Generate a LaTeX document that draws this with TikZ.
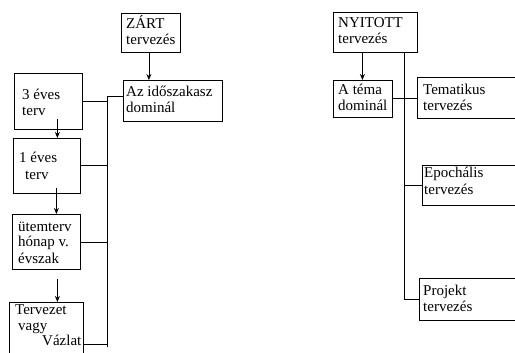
\documentclass[tikz,border=0pt]{standalone}
\usepackage{fontspec}
\setmainfont{Liberation Serif}
\usetikzlibrary{arrows.meta,calc}
\begin{document}
\begin{tikzpicture}[x=1pt,y=-1pt,
  box/.style={draw,line width=0.8pt,rectangle,inner sep=0pt,anchor=north west},
  txt/.style={anchor=base west,inner sep=0pt,font=\fontsize{15}{16}\selectfont},
  conn/.style={line width=0.8pt},
  arr/.style={line width=0.8pt,-{Stealth[length=6pt,width=5pt]}}]
\clip (0,0) rectangle (515,353);
\fill[white] (0,0) rectangle (515,353);
% left column boxes
\node[box,minimum width=59pt,minimum height=39pt] (zart) at (121,13) {};
\node[box,minimum width=99pt,minimum height=41pt] (az) at (123,80) {};
\node[box,minimum width=68pt,minimum height=56pt] (ev3) at (14,73) {};
\node[box,minimum width=67pt,minimum height=55pt] (ev1) at (13,138) {};
\node[box,minimum width=68pt,minimum height=55pt] (utem) at (12,214) {};
\node[box,minimum width=74pt,minimum height=70pt] (terv) at (9,302) {};
% right column boxes
\node[box,minimum width=84pt,minimum height=40pt] (nyit) at (333,12) {};
\node[box,minimum width=59pt,minimum height=37pt] (tema) at (333,80) {};
\node[box,minimum width=115pt,minimum height=41pt] (temat) at (417,77) {};
\node[box,minimum width=115pt,minimum height=40pt] (epoch) at (422,165) {};
\node[box,minimum width=115pt,minimum height=42pt] (proj) at (419,278) {};
% texts
\node[txt] (t1) at (126,29) {ZÁRT};
\node[txt] (t2) at (126,45) {tervezés};
\node[txt] (t3) at (126,97) {Az időszakasz};
\node[txt] (t4) at (126,113) {dominál};
\node[txt] (t5) at (22,100) {3 éves};
\node[txt] (t6) at (22,116) {terv};
\node[txt] (t7) at (19,163) {1 éves};
\node[txt] (t8) at (25,179) {terv};
\node[txt] (t9) at (18,231) {ütemterv};
\node[txt] (t10) at (18,247) {hónap v.};
\node[txt] (t11) at (18,263) {évszak};
\node[txt] (t12) at (15,314) {Tervezet};
\node[txt] (t13) at (18,330) {vagy};
\node[txt] (t14) at (42,345) {Vázlat};
\node[txt] (t15) at (338,28) {NYITOTT};
\node[txt] (t16) at (338,44) {tervezés};
\node[txt] (t17) at (338,95) {A téma};
\node[txt] (t18) at (338,111) {dominál};
\node[txt] (t19) at (423,95) {Tematikus};
\node[txt] (t20) at (423,111) {tervezés};
\node[txt] (t21) at (424,178) {Epochális};
\node[txt] (t22) at (424,194) {tervezés};
\node[txt] (t23) at (423,295) {Projekt};
\node[txt] (t24) at (423,311) {tervezés};
% arrow start points
\coordinate (a0) at ($(zart.south)+(-2,0)$);
\coordinate (a1) at ($(ev3.south)+(9,-11)$);
\coordinate (a2) at ($(ev1.south)+(9.5,-6)$);
\coordinate (a3) at ($(utem.south)+(11,9)$);
\coordinate (a4) at ($(nyit.south)+(-13,0)$);
\coordinate (tv) at ($(terv.north east)+(0,42)$);
% left spine
\coordinate (ls) at (107,96);
\coordinate (lse) at (107,347);
\draw[arr] (a0) -- (a0 |- az.north);
\draw[conn] (az.west |- ls) -- (ls) -- (lse);
\draw[conn] (ev3.east) -- (ev3.east -| ls);
\draw[conn] (ev1.east) -- (ev1.east -| ls);
\draw[conn] (utem.east) -- (utem.east -| ls);
\draw[conn] (tv) -- (tv -| ls);
\draw[arr] (a1) -- (a1 |- ev1.north);
\draw[arr] (a2) -- (a2 |- utem.north);
\draw[arr] (a3) -- (a3 |- terv.north);
% right spine
\coordinate (rs) at ($(nyit.south)+(29,0)$);
\draw[arr] (a4) -- (a4 |- tema.north);
\draw[conn] (rs) -- (rs |- proj.west) -- (proj.west);
\draw[conn] (tema.east) -- (temat.west |- tema.east);
\draw[conn] (epoch.west) -- (epoch.west -| rs);
\end{tikzpicture}
\end{document}
